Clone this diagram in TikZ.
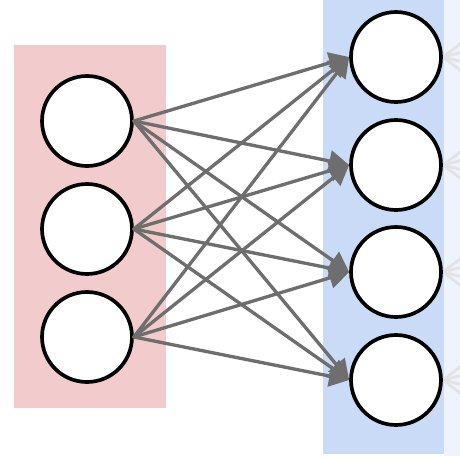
\documentclass[tikz,border=0pt]{standalone}
\usetikzlibrary{arrows.meta}
\definecolor{inred}{HTML}{F2CCCD}
\definecolor{hidblue}{HTML}{C9DBF6}
\definecolor{nextblue}{HTML}{EEF3FD}
\definecolor{linkgray}{HTML}{6E6E6E}
\begin{document}
\begin{tikzpicture}[x=0.02cm, y=-0.02cm, line join=round, line cap=round,
	neuron/.style={circle, draw=black, line width=2.1pt, fill=white, minimum size=1.8cm, inner sep=0pt},
	link/.style={draw=linkgray, line width=1.9pt, -{Triangle[length=0.4cm, width=0.42cm]}},
	fadelink/.style={draw=gray!22, line width=1.6pt}]
			\useasboundingbox (0, 0) rectangle (460, 460);
			\fill[inred] (14, 45) rectangle (166, 408);
			\fill[hidblue] (323, 0) rectangle (444, 454);
			\fill[nextblue] (444, 0) rectangle (460, 456);
			\foreach \i/\y in {1/121, 2/229, 3/337}
				\node[neuron] (l\i) at (87, \y) {};
			\foreach \j/\y in {1/57, 2/165, 3/272, 4/380}
				\node[neuron] (r\j) at (396, \y) {};
			\begin{scope}
				\clip (444, 0) rectangle (460, 460);
				\foreach \j in {1,...,4}
					\foreach \d in {-60, -20, 20, 60}
						\draw[fadelink] (r\j.east) -- ++(80, \d);
			\end{scope}
			\foreach \i in {1,2,3}
				\foreach \j in {1,...,4}
					\draw[link] (l\i.east) -- (r\j.west);
	\end{tikzpicture}
\end{document}
